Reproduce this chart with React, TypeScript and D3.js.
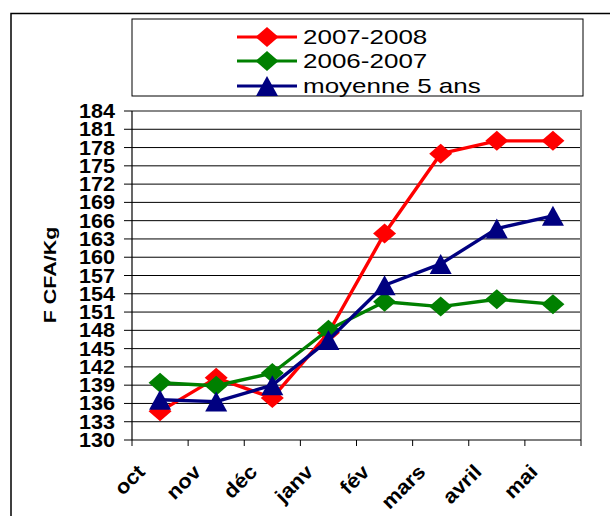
import React from "react";
import * as d3 from "d3";

const months = ["oct", "nov", "déc", "janv", "fév", "mars", "avril", "mai"];
const s20072008 = [134.7, 140.2, 136.9, 147.6, 163.9, 177.0, 179.1, 179.1];
const s20062007 = [139.4, 138.9, 141.0, 148.1, 152.7, 151.9, 153.1, 152.3];
const moyenne5 = [136.6, 136.3, 139.0, 146.4, 155.4, 158.9, 164.7, 166.8];
const yTicks = d3.range(130, 185, 3);
const seriesNames = ["2007-2008", "2006-2007", "moyenne 5 ans"];

const W = 610, H = 516;
const X0 = 132, X1 = 581, YT = 111, YB = 440;

const diamond = (hw: number, hh: number) => `M0,${-hh}L${hw},0L0,${hh}L${-hw},0Z`;
const triangle = (hw: number, hh: number) => `M0,${-hh}L${hw},${hh}L${-hw},${hh}Z`;

function Marker({ kind, color, x, y }: { kind: string; color: string; x: number; y: number }) {
  const d = kind === "diamond" ? diamond(11.5, 10) : triangle(11, 10);
  return <path d={d} transform={`translate(${x},${y})`} fill={color} />;
}

export default function App() {
  const x = d3.scaleBand<string>().domain(months).range([X0, X1]).padding(0);
  const y = d3.scaleLinear().domain([130, 184]).range([YB, YT]);
  const cx = (m: string) => (x(m) as number) + x.bandwidth() / 2;
  const line = d3
    .line<number>()
    .x((_, i) => cx(months[i]))
    .y((v) => y(v));

  const series = [
    { name: seriesNames[0], data: s20072008, color: "#FF0000", kind: "diamond" },
    { name: seriesNames[1], data: s20062007, color: "#008000", kind: "diamond" },
    { name: seriesNames[2], data: moyenne5, color: "#000080", kind: "triangle" },
  ];

  const font = "'Liberation Sans', Arial, sans-serif";
  const legendRows = [37, 61, 86];
  const edges = [...months.map((m) => x(m) as number), X1];

  return (
    <svg width={W} height={H} style={{ position: "absolute", left: 0, top: 0 }} fontFamily={font}>
      <rect x={0} y={0} width={W} height={H} fill="#fff" />
      {/* outer frame */}
      <path d={`M11,${H}V13.5H${W}`} fill="none" stroke="#000" strokeWidth={1.5} />

      {/* legend */}
      <rect x={132} y={19} width={451} height={77} fill="#fff" stroke="#000" strokeWidth={1} />
      {series.map((s, i) => (
        <g key={s.name}>
          <line x1={237} x2={297} y1={legendRows[i]} y2={legendRows[i]} stroke={s.color} strokeWidth={3.2} />
          <Marker kind={s.kind} color={s.color} x={267} y={legendRows[i]} />
          <text transform={`translate(303,${legendRows[i] + 6.5}) scale(1.3,1)`} fontSize={20} fill="#000">
            {s.name}
          </text>
        </g>
      ))}

      {/* plot area */}
      {yTicks.filter((t) => t > 130 && t < 184).map((t) => (
        <line key={t} x1={X0} x2={X1} y1={y(t)} y2={y(t)} stroke="#000" strokeWidth={1} />
      ))}
      <path d={`M${X0},${YT}H${X1}V${YB}`} fill="none" stroke="#888" strokeWidth={2} />
      <line x1={X0} x2={X0} y1={YT} y2={YB} stroke="#000" strokeWidth={1.2} />
      <line x1={X0} x2={X1} y1={YB} y2={YB} stroke="#000" strokeWidth={1.2} />

      {/* y ticks and labels */}
      {yTicks.map((t) => (
        <g key={t}>
          <line x1={124} x2={X0} y1={y(t)} y2={y(t)} stroke="#000" strokeWidth={1} />
          <text
            transform={`translate(115,${y(t) + 7}) scale(1.08,1)`}
            textAnchor="end"
            fontSize={20}
            fontWeight="bold"
            fill="#000"
          >
            {t}
          </text>
        </g>
      ))}

      {/* x ticks and labels */}
      {edges.map((e, i) => (
        <line key={i} x1={e} x2={e} y1={YB} y2={YB + 6} stroke="#000" strokeWidth={1} />
      ))}
      {months.map((m) => (
        <text
          key={m}
          transform={`translate(${cx(m) - 14},${473}) rotate(-45) scale(1.1,1)`}
          textAnchor="end"
          fontSize={20}
          fontWeight="bold"
          fill="#000"
        >
          {m}
        </text>
      ))}

      {/* y axis title */}
      <text
        transform={`translate(55.5,275) rotate(-90) scale(1.3,1)`}
        textAnchor="middle"
        fontSize={16.5}
        fontWeight="bold"
        fill="#000"
      >
        F CFA/Kg
      </text>

      {/* series */}
      {series.map((s) => (
        <g key={s.name}>
          <path d={line(s.data) || ""} fill="none" stroke={s.color} strokeWidth={3.4} strokeLinejoin="round" />
          {s.data.map((v, i) => (
            <Marker key={i} kind={s.kind} color={s.color} x={cx(months[i])} y={y(v)} />
          ))}
        </g>
      ))}
    </svg>
  );
}
